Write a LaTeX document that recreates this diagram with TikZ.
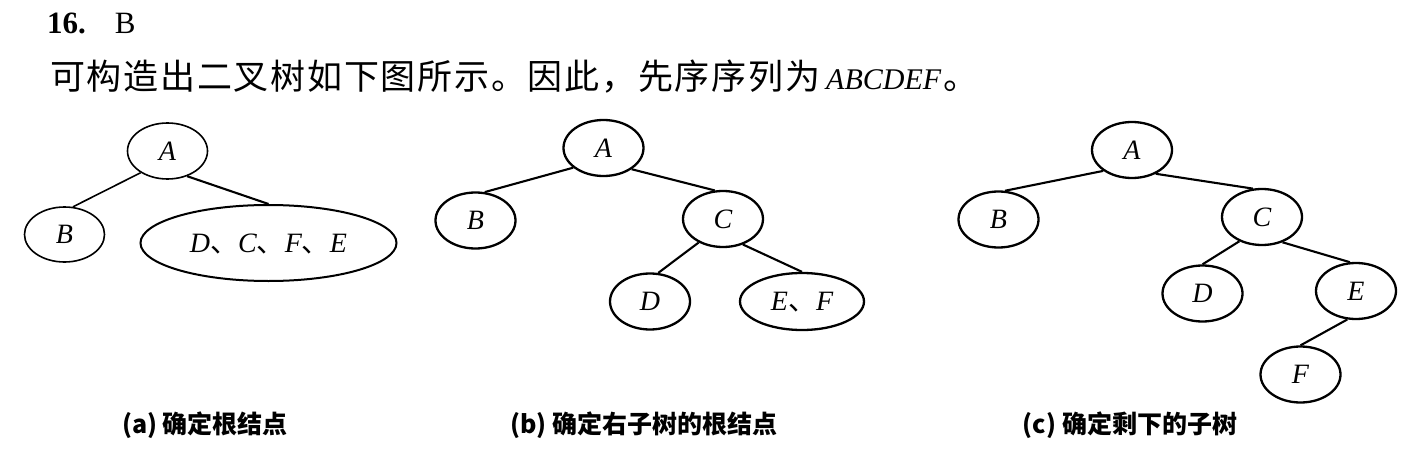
\documentclass[tikz,border=0pt]{standalone}
\usepackage{fontspec}
\setmainfont{Liberation Serif}
\newfontfamily\cjk{Noto Sans CJK SC}
\newfontfamily\cjkwide[LetterSpace=5]{Noto Sans CJK SC}
\usetikzlibrary{shapes.geometric}
\begin{document}
\begin{tikzpicture}[x=1pt,y=-1pt,
  tnode/.style={ellipse,draw,line width=2.3pt,inner sep=0pt,
    minimum width=80pt,minimum height=56pt,
    font=\fontsize{28}{30}\selectfont\itshape,text height=18.5pt,text depth=0pt},
  thin/.style={line width=1.6pt},
  edge/.style={line width=2.1pt},
  caption/.style={anchor=base,font=\cjk\bfseries\fontsize{25}{28}\selectfont}]
\useasboundingbox (0,0) rectangle (1422,452);
% heading
\node[anchor=base west,inner sep=0pt,font=\fontsize{31}{34}\selectfont] (head) at (47,34) {{\bfseries 16.}\hspace{29pt}B};
\node[anchor=base west,inner sep=0pt] (line) at (50,89)
  {{\cjkwide\fontsize{35}{40}\selectfont 可构造出二叉树如下图所示。因此，先序序列为}\hspace{6pt}{\fontsize{30}{34}\selectfont\itshape ABCDEF}\hspace{2pt}{\cjk\fontsize{35}{40}\selectfont 。}};
% (a)
\node[tnode,thin] (aA) at (167.5,151) {A};
\node[tnode,thin,minimum height=55pt] (aB) at (64.5,234.5) {B};
\node[tnode,minimum width=256pt,minimum height=76pt,line width=2pt] (aR) at (268.5,243) {D{\cjk 、}C{\cjk 、}F{\cjk 、}E};
\draw[thin] (aA.219) -- (aB.73);
\draw[edge] (aA.308) -- (aR.north);
% (b)
\node[tnode] (bA) at (603.5,148) {A};
\node[tnode] (bB) at (475.5,220.5) {B};
\node[tnode] (bC) at (723,219) {C};
\node[tnode] (bD) at (650,301.5) {D};
\node[tnode,minimum width=124pt,minimum height=57pt] (bEF) at (802,301.5) {E{\cjk 、}F};
\draw[edge] (bA.213) -- (bB.72);
\draw[edge] (bA.323) -- (bC.106);
\draw[edge] (bC.224) -- (bD.74);
\draw[edge] (bC.308) -- (bEF.north);
% (c)
\node[tnode] (cA) at (1132,150) {A};
\node[tnode] (cB) at (998.5,219.5) {B};
\node[tnode] (cC) at (1262,217) {C};
\node[tnode] (cD) at (1202.5,293.5) {D};
\node[tnode] (cE) at (1356,291) {E};
\node[tnode] (cF) at (1300.5,374.5) {F};
\draw[edge] (cA.216) -- (cB.77);
\draw[edge] (cA.315) -- (cC.108);
\draw[edge] (cC.227) -- (cD.north);
\draw[edge] (cC.309) -- (cE.102);
\draw[edge] (cE.253) -- (cF.north);
% captions
\node[caption] (capa) at (205,433) {(a) 确定根结点};
\node[caption] (capb) at (644,433) {(b) 确定右子树的根结点};
\node[caption] (capc) at (1130,433) {(c) 确定剩下的子树};
\end{tikzpicture}
\end{document}
